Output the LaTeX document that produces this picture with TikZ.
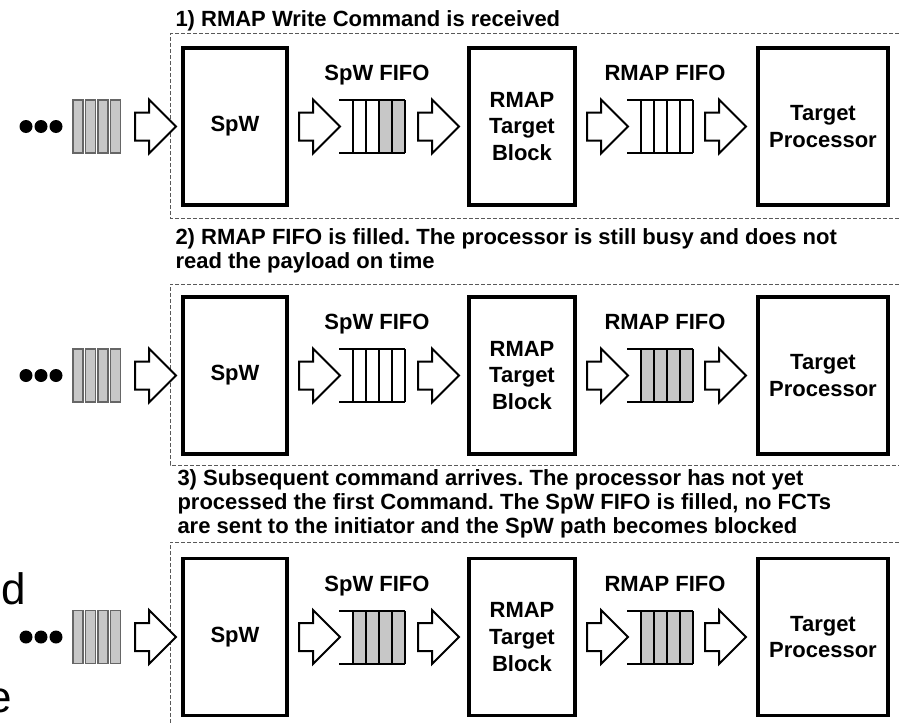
\documentclass[tikz,border=0pt]{standalone}
\usepackage{fontspec}
\setmainfont{Liberation Sans}
\frenchspacing
\tikzset{every picture/.style={line width=0.75pt}}
\tikzset{
  blockbox/.style={draw, line width=2.6pt, align=center, font=\bfseries\fontsize{16.5}{20}\selectfont},
  fifolabel/.style={anchor=base, inner sep=0pt, font=\bfseries\fontsize{16.5}{20}\selectfont},
  titletext/.style={anchor=base west, inner sep=0pt, font=\bfseries\fontsize{16.5}{20}\selectfont},
  cuttext/.style={anchor=base east, inner sep=0pt, font=\fontsize{33}{33}\selectfont},
  panelframe/.style={draw=black!65, line width=0.75pt, dash pattern=on 3pt off 1.5pt},
  hollowarrow/.pic={\draw[line width=1.5pt, fill=white] (0,-14) -- (14,-14) -- (14,-27) -- (41,0) -- (14,27) -- (14,14) -- (0,14) -- cycle;},
  fifo/.pic={
    \fill[black!22] ({66-13*#1},-26.5) rectangle (66,26.5);
    \draw[line width=1.5pt] (0,-26.5) -- (66,-26.5) (0,26.5) -- (66,26.5);
    \draw[line width=1.5pt] (14,-26.5) -- (14,26.5) (27,-26.5) -- (27,26.5) (40,-26.5) -- (40,26.5) (53,-26.5) -- (53,26.5) (66,-26.5) -- (66,26.5);
  },
  packets/.pic={
    \filldraw[fill=black!22, draw=black!60, line width=1pt] (0,-26.5) rectangle (10,26.5) (12.5,-26.5) rectangle (22.5,26.5) (25,-26.5) rectangle (35,26.5) (37.5,-26.5) rectangle (47.5,26.5);
    \fill (-47,0) circle (6.5) (-32,0) circle (6.5) (-17,0) circle (6.5);
  }
}

\begin{document}
\begin{tikzpicture}[x=0.75pt,y=0.75pt,yscale=-1,xscale=1]
\useasboundingbox (0,0) rectangle (899,724);
\clip (0,0) rectangle (899,724);

% Text Node
\node[cuttext] (cutd) at (26,604) {d};
% Text Node
\node[cuttext] (cute) at (12,712) {e};

%%%%% 1) command received
%Shape: Dashed frame
\draw[panelframe] (905,34) -- (170,34) -- (170,218) -- (905,218);
% Text Node
\node[titletext] (title1) at (175,27) {1) RMAP Write Command is received};
%Shape: Packets and dots
\draw (73,126.5) pic {packets};
%Shape: Arrows
\draw (135,126.5) pic {hollowarrow} (299,126.5) pic {hollowarrow} (418,126.5) pic {hollowarrow} (587,126.5) pic {hollowarrow} (705,126.5) pic {hollowarrow};
%Shape: FIFOs
\draw (339,126.5) pic {fifo=2} (627,126.5) pic {fifo=0};
% Blocks
\node[blockbox, minimum width=78pt, minimum height=117.75pt] (spw1) at (235,126.5) {SpW};
\node[blockbox, minimum width=79.5pt, minimum height=117.75pt] (rmap1) at (522,126.5) {RMAP\\Target\\Block};
\node[blockbox, minimum width=97.5pt, minimum height=117.75pt] (proc1) at (823,126.5) {Target\\Processor};
% Text Node
\node[fifolabel] (spwfifo1) at (377,80) {SpW FIFO};
% Text Node
\node[fifolabel] (rmapfifo1) at (665,80) {RMAP FIFO};

%%%%% 2) RMAP FIFO filled
%Shape: Dashed frame
\draw[panelframe] (905,284) -- (170,284) -- (170,465) -- (905,465);
% Text Node
\node[titletext] (title2a) at (175,244) {2) RMAP FIFO is filled. The processor is still busy and does not};
% Text Node
\node[titletext] (title2b) at (175,268) {read the payload on time};
%Shape: Packets and dots
\draw (73,375.5) pic {packets};
%Shape: Arrows
\draw (135,375.5) pic {hollowarrow} (299,375.5) pic {hollowarrow} (418,375.5) pic {hollowarrow} (587,375.5) pic {hollowarrow} (705,375.5) pic {hollowarrow};
%Shape: FIFOs
\draw (339,375.5) pic {fifo=0} (627,375.5) pic {fifo=4};
% Blocks
\node[blockbox, minimum width=78pt, minimum height=117.75pt] (spw2) at (235,375.5) {SpW};
\node[blockbox, minimum width=79.5pt, minimum height=117.75pt] (rmap2) at (522,375.5) {RMAP\\Target\\Block};
\node[blockbox, minimum width=97.5pt, minimum height=117.75pt] (proc2) at (823,375.5) {Target\\Processor};
% Text Node
\node[fifolabel] (spwfifo2) at (377,329) {SpW FIFO};
% Text Node
\node[fifolabel] (rmapfifo2) at (665,329) {RMAP FIFO};

%%%%% 3) SpW path blocked
%Shape: Dashed frame
\draw[panelframe] (905,542) -- (170,542) -- (170,740);
% Text Node
\node[titletext] (title3a) at (177,485) {3) Subsequent command arrives. The processor has not yet};
% Text Node
\node[titletext] (title3b) at (177,509) {processed the first Command. The SpW FIFO is filled, no FCTs};
% Text Node
\node[titletext] (title3c) at (177,533) {are sent to the initiator and the SpW path becomes blocked};
%Shape: Packets and dots
\draw (73,637) pic {packets};
%Shape: Arrows
\draw (135,637) pic {hollowarrow} (299,637) pic {hollowarrow} (418,637) pic {hollowarrow} (587,637) pic {hollowarrow} (705,637) pic {hollowarrow};
%Shape: FIFOs
\draw (339,637) pic {fifo=4} (627,637) pic {fifo=4};
% Blocks
\node[blockbox, minimum width=78pt, minimum height=117.75pt] (spw3) at (235,637) {SpW};
\node[blockbox, minimum width=79.5pt, minimum height=117.75pt] (rmap3) at (522,637) {RMAP\\Target\\Block};
\node[blockbox, minimum width=97.5pt, minimum height=117.75pt] (proc3) at (823,637) {Target\\Processor};
% Text Node
\node[fifolabel] (spwfifo3) at (377,591) {SpW FIFO};
% Text Node
\node[fifolabel] (rmapfifo3) at (665,591) {RMAP FIFO};

\end{tikzpicture}
\end{document}
